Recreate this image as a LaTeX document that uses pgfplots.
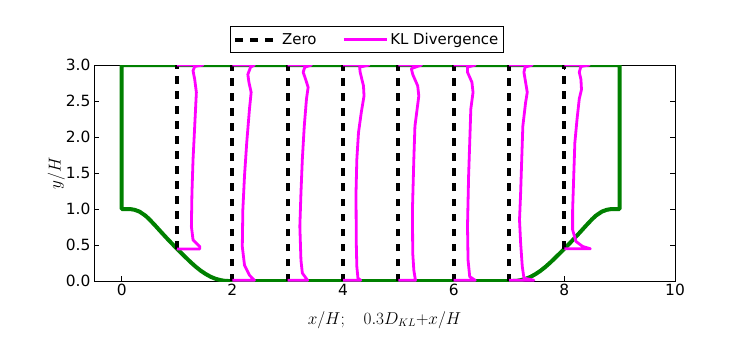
\documentclass[border=0pt]{standalone}
\usepackage{fontspec}
\setmainfont{DejaVu Sans}
\usepackage{pgfplots}
\pgfplotsset{compat=1.18}
\definecolor{hillgreen}{rgb}{0,0.5,0}
\definecolor{klmag}{rgb}{1,0,1}
\pgfplotsset{dashlegend/.style={legend image code/.code={\draw[##1] (0bp,0bp) -- (23bp,0bp); \path (0bp,0bp) -- (43bp,0bp);}}}
\begin{document}
\begin{tikzpicture}
\begin{axis}[
  name=ax,
  width=581bp, height=216bp, scale only axis,
  xmin=-0.5, xmax=10, ymin=0, ymax=3,
  xtick={0,2,4,6,8,10},
  ytick={0,0.5,1,1.5,2,2.5,3},
  yticklabel style={/pgf/number format/.cd, fixed, fixed zerofill, precision=1},
  /pgf/number format/assume math mode=true,
  tick label style={font=\fontsize{15.5}{18}\selectfont},
  tick align=inside, major tick length=5bp,
  every tick/.style={black, line width=0.6bp},
  axis line style={line width=0.8bp},
  xlabel={$x/H;\quad 0.3D_{KL}{+}x/H$},
  ylabel={$y/H$},
  every axis x label/.style={at={(axis description cs:0.5,-0.18)}, anchor=center, font=\fontsize{16}{19}\selectfont},
  every axis y label/.style={at={(axis description cs:-0.065,0.5)}, rotate=90, anchor=center, font=\fontsize{16.5}{19}\selectfont},
  legend columns=2,
  legend image code/.code={\draw[#1] (0bp,0bp) -- (32bp,0bp); \path (0bp,0bp) -- (43bp,0bp);},
  legend style={at={(axis description cs:0.4695,1.056)}, anchor=south,
    draw=black, line width=0.8bp, font=\fontsize{15}{18}\selectfont,
    inner xsep=3bp, inner ysep=4.5bp,
    /tikz/every even column/.append style={column sep=24bp}},
]
% hill geometry
\addplot[hillgreen, line width=4bp, line join=round, forget plot] coordinates {
 (0,3) (0,1.0) (0.161,0.998) (0.232,0.989) (0.321,0.964) (0.429,0.908) (0.500,0.857)
 (0.607,0.770) (0.714,0.679) (0.804,0.604) (0.893,0.532) (0.982,0.462) (1.071,0.393)
 (1.161,0.325) (1.250,0.259) (1.339,0.198) (1.429,0.143) (1.518,0.097) (1.607,0.059)
 (1.696,0.031) (1.786,0.012) (1.857,0.003) (1.929,0.0)
 (7.071,0.0) (7.143,0.003) (7.214,0.012) (7.304,0.031) (7.393,0.059) (7.482,0.097)
 (7.571,0.143) (7.661,0.198) (7.750,0.259) (7.839,0.325) (7.929,0.393) (8.018,0.462)
 (8.107,0.532) (8.196,0.604) (8.286,0.679) (8.393,0.770) (8.500,0.857) (8.571,0.908)
 (8.679,0.964) (8.768,0.989) (8.839,0.998) (9,1.0) (9,3) (0,3)
};
% zero lines
\addplot[black, line width=4bp, dash pattern=on 7.5bp off 7.5bp, dashlegend]
  coordinates {(1,0.448) (1,3)};
\addlegendentry{Zero}
\addplot[black, line width=4bp, dash pattern=on 7.5bp off 7.5bp, forget plot] coordinates {(2,0) (2,3)};
\addplot[black, line width=4bp, dash pattern=on 7.5bp off 7.5bp, forget plot] coordinates {(3,0) (3,3)};
\addplot[black, line width=4bp, dash pattern=on 7.5bp off 7.5bp, forget plot] coordinates {(4,0) (4,3)};
\addplot[black, line width=4bp, dash pattern=on 7.5bp off 7.5bp, forget plot] coordinates {(5,0) (5,3)};
\addplot[black, line width=4bp, dash pattern=on 7.5bp off 7.5bp, forget plot] coordinates {(6,0) (6,3)};
\addplot[black, line width=4bp, dash pattern=on 7.5bp off 7.5bp, forget plot] coordinates {(7,0) (7,3)};
\addplot[black, line width=4bp, dash pattern=on 7.5bp off 7.5bp, forget plot] coordinates {(8,0.448) (8,3)};
% KL divergence profiles
\addplot[klmag, line width=2.8bp, line join=round] coordinates {
 (1,0.445) (1.41,0.445) (1.41,0.48) (1.29,0.57) (1.26,0.76) (1.27,1.22) (1.29,1.69)
 (1.32,2.15) (1.35,2.62) (1.32,2.80) (1.29,2.92) (1.32,2.98) (1.47,3.0) (1,3.0)};
\addlegendentry{KL Divergence}
\addplot[klmag, line width=2.8bp, line join=round, forget plot] coordinates {
 (2,0.01) (2.40,0.01) (2.31,0.08) (2.22,0.22) (2.18,0.48) (2.19,0.99) (2.22,1.46)
 (2.26,1.92) (2.31,2.39) (2.34,2.62) (2.30,2.76) (2.28,2.87) (2.33,2.97) (2.40,3.0) (2,3)};
\addplot[klmag, line width=2.8bp, line join=round, forget plot] coordinates {
 (3,0.01) (3.36,0.01) (3.265,0.11) (3.24,0.29) (3.22,0.76) (3.24,1.22) (3.265,1.69)
 (3.30,2.15) (3.34,2.53) (3.37,2.69) (3.325,2.80) (3.28,2.90) (3.31,2.97) (3.43,3.0) (3,3)};
\addplot[klmag, line width=2.8bp, line join=round, forget plot] coordinates {
 (4,0.01) (4.32,0.01) (4.27,0.04) (4.25,0.2) (4.24,0.53) (4.235,1.22) (4.25,1.69)
 (4.28,2.06) (4.33,2.34) (4.38,2.57) (4.37,2.71) (4.31,2.90) (4.30,2.97) (4.47,3.0) (4,3)};
\addplot[klmag, line width=2.8bp, line join=round, forget plot] coordinates {
 (5,0.01) (5.31,0.01) (5.28,0.15) (5.26,0.39) (5.255,0.99) (5.28,1.69) (5.30,2.15)
 (5.34,2.39) (5.37,2.57) (5.35,2.71) (5.26,2.87) (5.235,2.95) (5.42,3.0) (5,3)};
\addplot[klmag, line width=2.8bp, line join=round, forget plot] coordinates {
 (6,0.01) (6.39,0.01) (6.29,0.06) (6.26,0.29) (6.25,0.76) (6.27,1.46) (6.29,1.92)
 (6.31,2.39) (6.35,2.62) (6.33,2.76) (6.25,2.90) (6.25,2.97) (6.39,3.0) (6,3)};
\addplot[klmag, line width=2.8bp, line join=round, forget plot] coordinates {
 (7,0.01) (7.45,0.01) (7.27,0.04) (7.24,0.2) (7.21,0.53) (7.19,0.85) (7.21,1.22)
 (7.23,1.69) (7.25,2.15) (7.30,2.48) (7.33,2.62) (7.30,2.76) (7.27,2.90) (7.29,2.97) (7.42,3.0) (7,3)};
\addplot[klmag, line width=2.8bp, line join=round, forget plot] coordinates {
 (8,0.448) (8.47,0.448) (8.33,0.48) (8.21,0.55) (8.15,0.71) (8.15,0.99) (8.17,1.46)
 (8.19,1.92) (8.23,2.25) (8.27,2.53) (8.31,2.66) (8.30,2.80) (8.27,2.90) (8.30,2.98) (8.45,3.0) (8,3)};
\end{axis}
\path ([xshift=-94bp,yshift=-65bp]ax.south west) rectangle ++(747bp,346bp);
\end{tikzpicture}
\end{document}
